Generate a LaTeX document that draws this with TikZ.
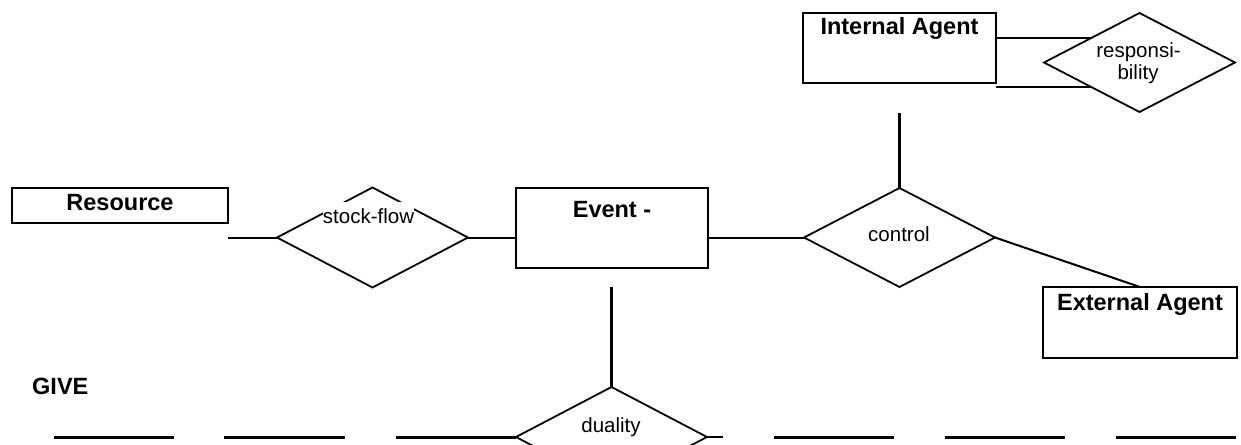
\documentclass[tikz,border=0pt]{standalone}
\usepackage{fontspec}
\setmainfont{Liberation Sans}
\usetikzlibrary{shapes.geometric}

\begin{document}
\begin{tikzpicture}[x=1pt,y=-1pt,
  entity/.style={draw, line width=1.6pt, rectangle, inner sep=0pt, outer sep=0pt},
  relation/.style={draw, line width=1.8pt, diamond, inner sep=0pt, outer sep=0pt,
    minimum width=191pt, minimum height=99pt},
  etext/.style={font=\fontsize{23.5}{28}\selectfont\bfseries, inner sep=0pt, anchor=base},
  rtext/.style={font=\fontsize{20.5}{24}\selectfont, inner sep=0pt, anchor=base},
  link/.style={line width=2pt},
  stem/.style={line width=2.4pt},
  blank/.style={line width=3pt}
]
\useasboundingbox (0,0) rectangle (1241,444);
\clip (0,0) rectangle (1241,444);

% entities
\node[entity, minimum width=193pt, minimum height=70pt] (ia) at (899.5,48) {};
\node[etext] at (899.5,35) {Internal Agent};

\node[entity, minimum width=216pt, minimum height=35pt] (res) at (120,205.5) {};
\node[etext] at (120,210) {Resource};

\node[entity, minimum width=192pt, minimum height=80pt] (ev) at (612,228) {};
\node[etext] at (612,217) {Event -};

\node[entity, minimum width=194pt, minimum height=71pt] (ea) at (1140,322.5) {};
\node[etext] at (1140,310) {External Agent};

\node[etext, anchor=base west] (give) at (32,394) {GIVE};

% relationships
\node[relation] (rsp) at (1139.5,62.5) {};
\node[rtext] at (1138.5,58) {responsi-};
\node[rtext] at (1138,79) {bility};

\node[relation, minimum height=100pt] (sf) at (372.5,237.5) {};
\node[rtext, fill=white, inner ysep=6pt] at (368.5,223) {stock-flow};

\node[relation] (ctl) at (899.5,237.5) {};
\node[rtext] at (899,241) {control};

\node[relation, minimum height=100pt] (dual) at (611.5,437) {};
\node[rtext] at (611,432) {duality};

% connectors
\draw[link] (ia.east |- rsp.north west) -- (rsp.north west);
\draw[link] (ia.east |- rsp.south west) -- (rsp.south west);
\draw[link] (res.east |- sf.west) -- (sf.west);
\draw[link] (sf.east) -- (sf.east -| ev.west);
\draw[link] (ev.east |- ctl.west) -- (ctl.west);
\draw[link] (ctl.east) -- (ea.north);
\draw[stem] (ctl.north |- 0,113) -- (ctl.north);
\draw[stem] (dual.north |- 0,287) -- (dual.north);

% blank lines of the GIVE row
\foreach \a/\b in {54/174, 224/345, 774/894, 945/1065, 1116/1236}
  \draw[blank] (\a,437) -- (\b,437);
\draw[blank] (396,437) -- (dual.west);
\draw[link] (dual.east) -- (723,437);
\end{tikzpicture}
\end{document}
